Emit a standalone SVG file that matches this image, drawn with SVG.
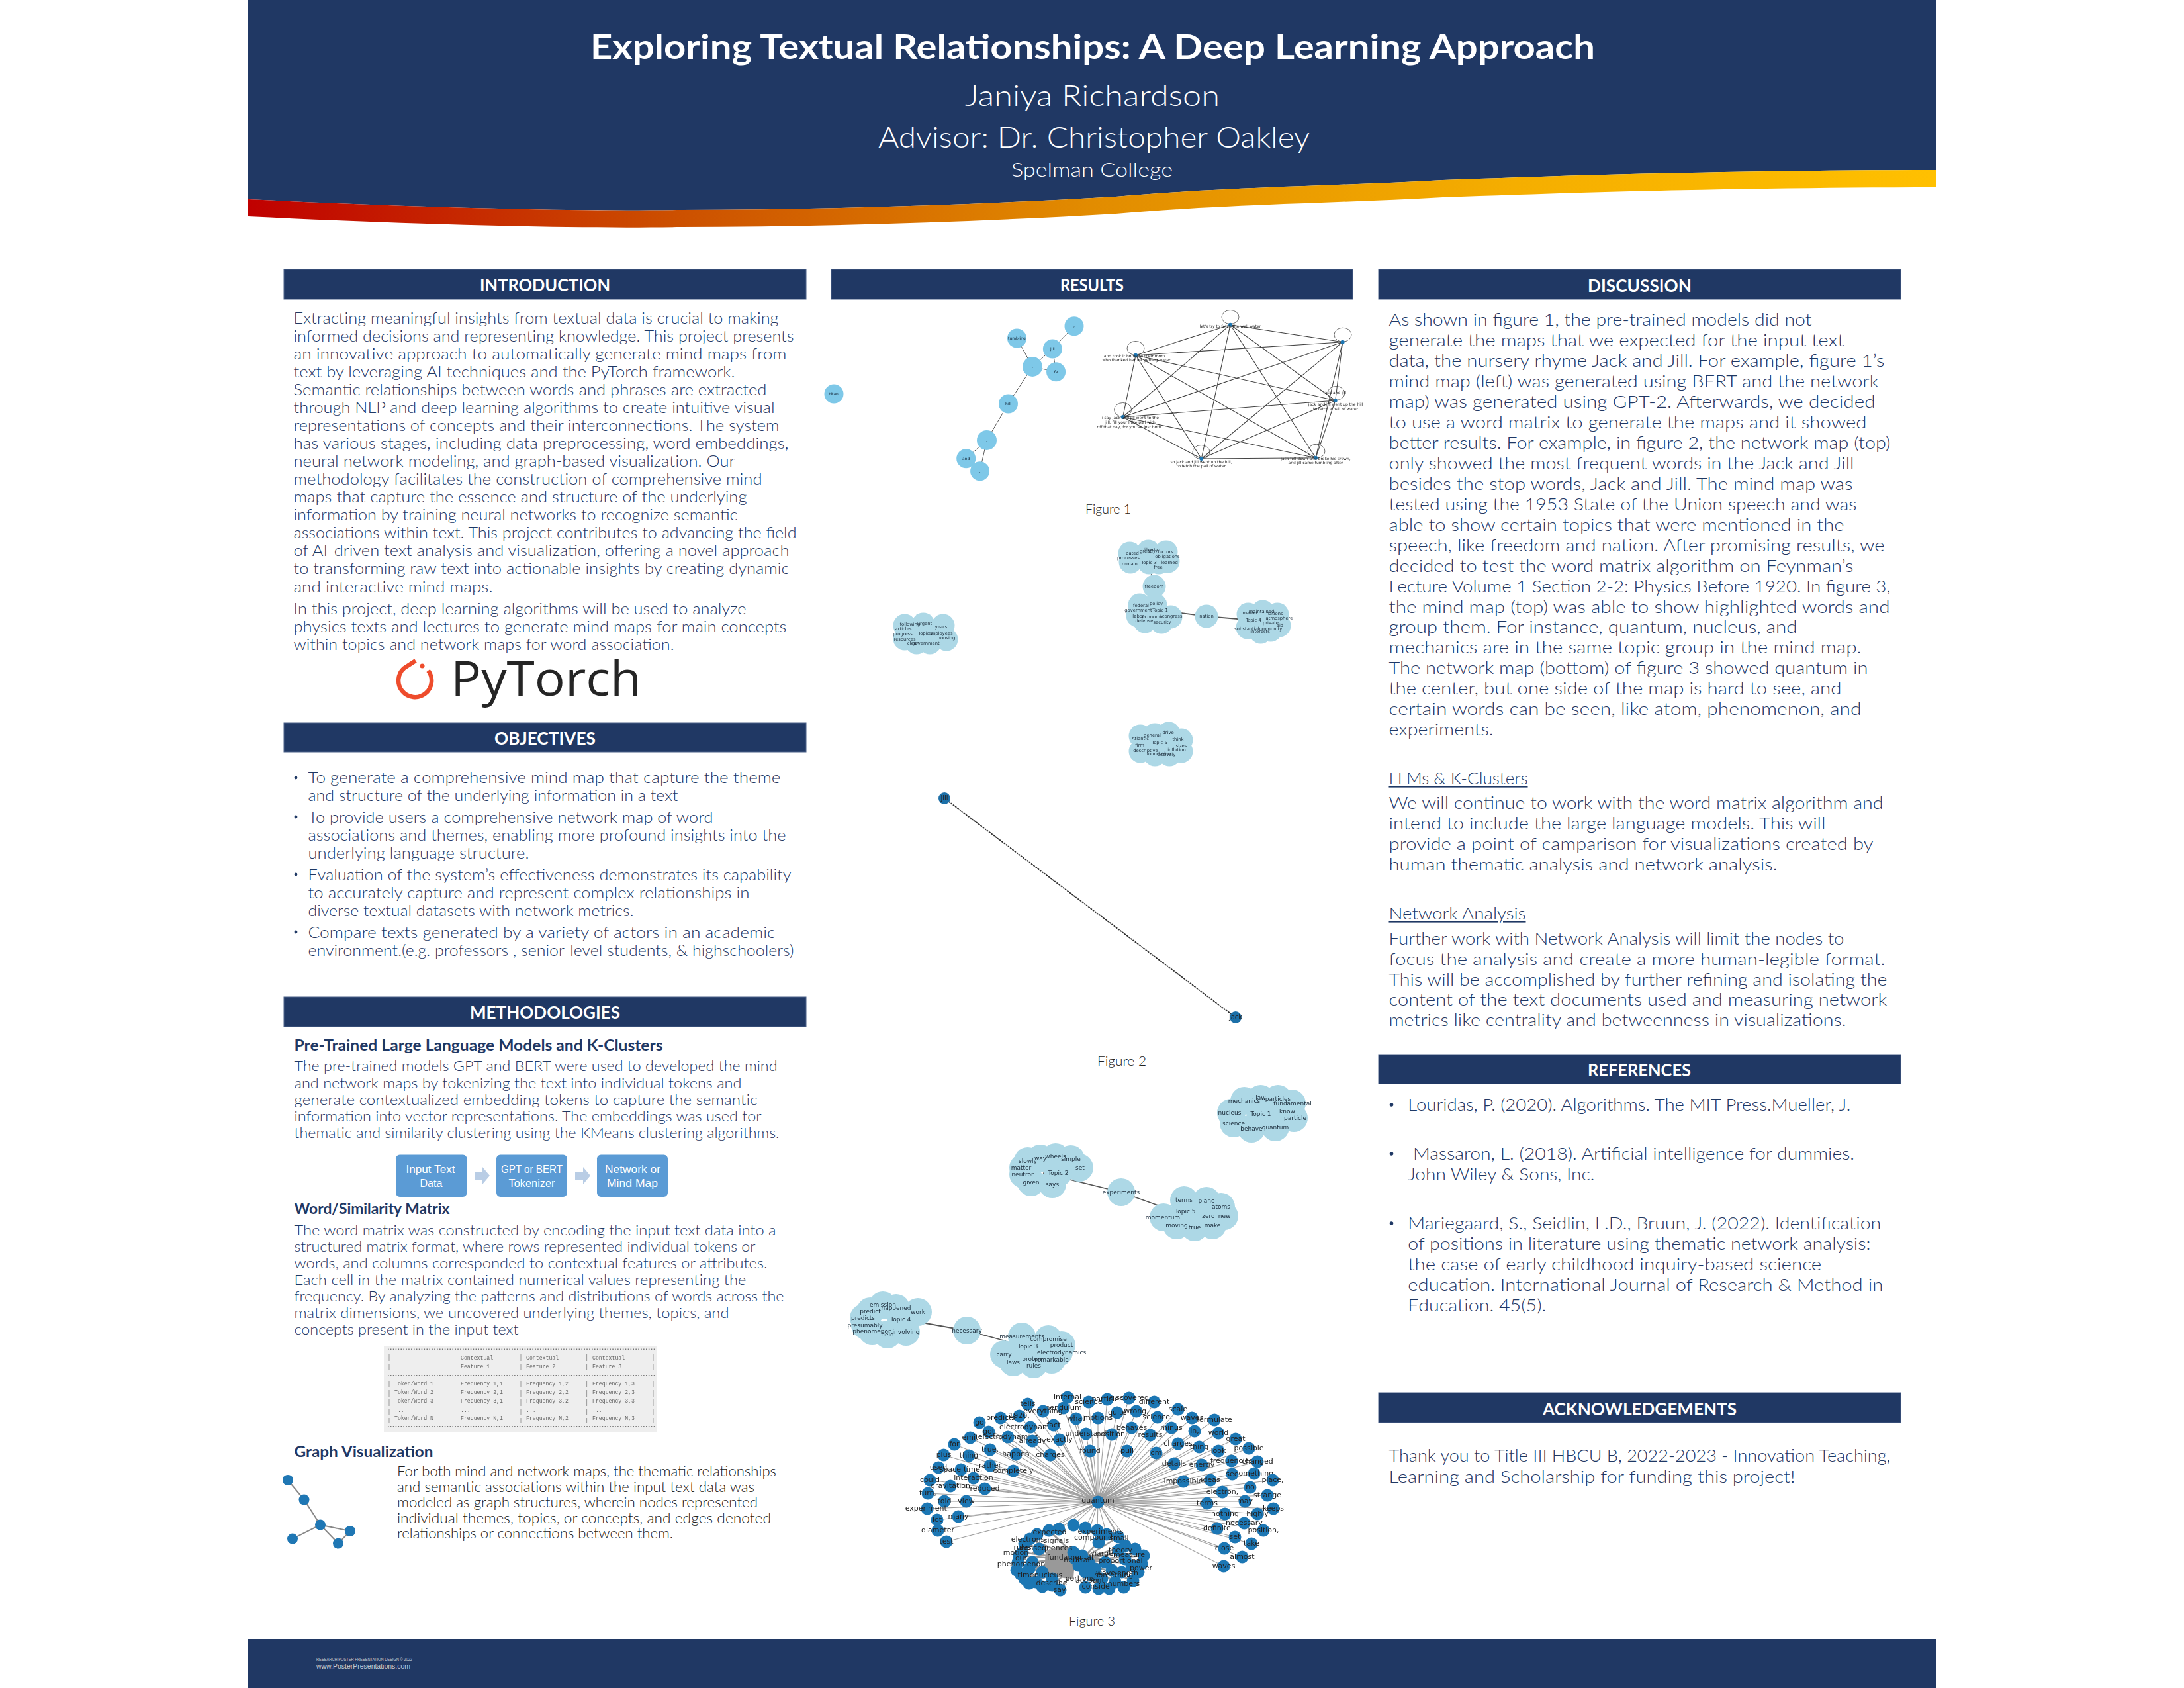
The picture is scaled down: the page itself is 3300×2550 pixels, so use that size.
<svg xmlns="http://www.w3.org/2000/svg" width="3300" height="2550" viewBox="0 0 3300 2550">
<style>
text{font-family:"Lato","Liberation Sans",sans-serif}
.bar{fill:#203864;stroke:#4a6088;stroke-width:1}
.h{fill:#fff;font-weight:700;font-size:27px}
.b{fill:#1f3864;font-size:23px;font-weight:300}
.d{fill:#1f3864;font-size:26px;font-weight:300}
.m{fill:#1f3864;font-size:21.5px;font-weight:300}
.k{fill:#1f3864;font-size:22.5px;font-weight:700}
.g{fill:#222;font-size:21.5px;font-weight:300}
.cap{fill:#222;font-size:20px;font-weight:300}
.dot{fill:#1f3864}
.t{fill:#fff;font-size:44px;font-weight:300}
.fb{fill:#5b9bd5}
.ft{fill:#fff;font-size:17px;font-family:"Liberation Sans",sans-serif}
.ar{fill:#b9cde5}
.mono text{font-family:"Liberation Mono",monospace;font-size:8.2px;fill:#666}
.e1{fill:none;stroke:#555;stroke-width:1}
.e2{fill:none;stroke:#444;stroke-width:1.1}
.e3{fill:none;stroke:#555;stroke-width:1.8}
.e4{fill:none;stroke:#a0a0a0;stroke-width:1.1}
.e5{fill:none;stroke:#888;stroke-width:2}
.sky circle{fill:#7ec8e8}.sky text{font-family:"DejaVu Sans",sans-serif;font-size:6px;fill:#123;text-anchor:middle}
.net circle{fill:#1f77b4}.net ellipse{fill:none;stroke:#444;stroke-width:.8}.net text{font-family:"DejaVu Sans",sans-serif;font-size:6px;fill:#222;text-anchor:middle}
.cl circle{fill:#add8e6;r:17.5px}.cl text{font-family:"DejaVu Sans",sans-serif;font-size:6.8px;fill:#1a2b3a;text-anchor:middle}
.cl2 circle{fill:#add8e6;r:21px}.cl2 text{font-family:"DejaVu Sans",sans-serif;font-size:9px;fill:#1a2b3a;text-anchor:middle}
.hub circle{fill:#1f77b4;r:9.5px}.hub text{font-family:"DejaVu Sans",sans-serif;font-size:11px;fill:#222;text-anchor:middle}
.gv circle{fill:#1f77b4}
</style>
<defs>
<linearGradient id="sw" gradientUnits="userSpaceOnUse" x1="375" y1="0" x2="2925" y2="0">
<stop offset="0" stop-color="#c00000"/><stop offset=".25" stop-color="#cc4f00"/><stop offset=".5" stop-color="#e28c00"/><stop offset=".75" stop-color="#f5ae00"/><stop offset="1" stop-color="#ffc000"/>
</linearGradient>
<filter id="soft" x="-5%" y="-5%" width="110%" height="110%"><feGaussianBlur stdDeviation=".55"/></filter>
</defs>
<rect width="3300" height="2550" fill="#fff"/>

<g id="header">
<path fill="#203864" d="M375 0V301C600 312 850 320 1028 317C1250 317 1480 309 1686 297C1860 282 2020 281 2180 272C2300 268 2400 264 2509 262C2650 259 2800 257 2925 257V0Z"/>
<path fill="url(#sw)" d="M375 301C600 312 850 320 1028 317C1250 317 1480 309 1686 297C1860 282 2020 281 2180 272C2300 268 2400 264 2509 262C2650 259 2800 257 2925 257V283C2800 283 2650 285 2509 288C2400 290 2300 294 2180 298C2020 307 1860 308 1686 323C1480 335 1250 343 1028 343C850 346 600 338 375 327Z"/>
<text x="892" y="89" fill="#fff" font-size="52" font-weight="700" textLength="1518" lengthAdjust="spacingAndGlyphs">Exploring Textual Relationships: A Deep Learning Approach</text>
<text class="t" x="1458" y="160" textLength="385" lengthAdjust="spacingAndGlyphs">Janiya Richardson</text>
<text class="t" x="1327" y="223" textLength="652" lengthAdjust="spacingAndGlyphs">Advisor: Dr. Christopher Oakley</text>
<text x="1528" y="267" fill="#fff" font-size="29" font-weight="300" textLength="244" lengthAdjust="spacingAndGlyphs">Spelman College</text>
</g>

<g id="footer">
<rect x="375" y="2476" width="2550" height="74" fill="#203864"/>
<text x="478" y="2509" fill="#c9cdd5" font-size="7" textLength="145" lengthAdjust="spacingAndGlyphs" style="font-family:'Liberation Sans',sans-serif">RESEARCH POSTER PRESENTATION DESIGN © 2022</text>
<text x="478" y="2521" fill="#c9cdd5" font-size="11" textLength="142" lengthAdjust="spacingAndGlyphs" style="font-family:'Liberation Sans',sans-serif">www.PosterPresentations.com</text>
</g>

<g id="introduction">
<rect class="bar" x="429" y="407" width="789" height="45"/>
<text class="h" x="725" y="440" textLength="197" lengthAdjust="spacingAndGlyphs">INTRODUCTION</text>
<text class="b" x="443.5" y="489" textLength="733" lengthAdjust="spacingAndGlyphs">Extracting meaningful insights from textual data is crucial to making</text>
<text class="b" x="443.5" y="516" textLength="756" lengthAdjust="spacingAndGlyphs">informed decisions and representing knowledge. This project presents</text>
<text class="b" x="443.5" y="543" textLength="745" lengthAdjust="spacingAndGlyphs">an innovative approach to automatically generate mind maps from</text>
<text class="b" x="443.5" y="570" textLength="667" lengthAdjust="spacingAndGlyphs">text by leveraging AI techniques and the PyTorch framework.</text>
<text class="b" x="443.5" y="597" textLength="715" lengthAdjust="spacingAndGlyphs">Semantic relationships between words and phrases are extracted</text>
<text class="b" x="443.5" y="624" textLength="727" lengthAdjust="spacingAndGlyphs">through NLP and deep learning algorithms to create intuitive visual</text>
<text class="b" x="443.5" y="651" textLength="734" lengthAdjust="spacingAndGlyphs">representations of concepts and their interconnections. The system</text>
<text class="b" x="443.5" y="678" textLength="748" lengthAdjust="spacingAndGlyphs">has various stages, including data preprocessing, word embeddings,</text>
<text class="b" x="443.5" y="705" textLength="667" lengthAdjust="spacingAndGlyphs">neural network modeling, and graph-based visualization. Our</text>
<text class="b" x="443.5" y="732" textLength="708" lengthAdjust="spacingAndGlyphs">methodology facilitates the construction of comprehensive mind</text>
<text class="b" x="443.5" y="759" textLength="685" lengthAdjust="spacingAndGlyphs">maps that capture the essence and structure of the underlying</text>
<text class="b" x="443.5" y="786" textLength="671" lengthAdjust="spacingAndGlyphs">information by training neural networks to recognize semantic</text>
<text class="b" x="443.5" y="813" textLength="760" lengthAdjust="spacingAndGlyphs">associations within text. This project contributes to advancing the field</text>
<text class="b" x="443.5" y="840" textLength="749" lengthAdjust="spacingAndGlyphs">of AI-driven text analysis and visualization, offering a novel approach</text>
<text class="b" x="443.5" y="867" textLength="749" lengthAdjust="spacingAndGlyphs">to transforming raw text into actionable insights by creating dynamic</text>
<text class="b" x="443.5" y="894.5" textLength="301" lengthAdjust="spacingAndGlyphs">and interactive mind maps.</text>
<text class="b" x="443.5" y="928" textLength="684" lengthAdjust="spacingAndGlyphs">In this project, deep learning algorithms will be used to analyze</text>
<text class="b" x="443.5" y="955" textLength="745" lengthAdjust="spacingAndGlyphs">physics texts and lectures to generate mind maps for main concepts</text>
<text class="b" x="443.5" y="982" textLength="575" lengthAdjust="spacingAndGlyphs">within topics and network maps for word association.</text>
</g>

<g id="pytorch-logo">
<path d="M628 998L611 1009A25 25 0 1 0 647 1013" fill="none" stroke="#ee4c2c" stroke-width="6.5"/>
<circle cx="638" cy="1006" r="3.6" fill="#ee4c2c"/>
<text x="681" y="1051" fill="#252525" font-size="74" textLength="288" lengthAdjust="spacingAndGlyphs" style="font-family:'Open Sans',sans-serif">PyTorch</text>
</g>

<g id="objectives">
<rect class="bar" x="429" y="1092" width="789" height="44"/>
<text class="h" x="747" y="1125" textLength="153" lengthAdjust="spacingAndGlyphs">OBJECTIVES</text>
<circle class="dot" cx="447" cy="1175" r="2.4"/><circle class="dot" cx="447" cy="1234" r="2.4"/><circle class="dot" cx="447" cy="1321" r="2.4"/><circle class="dot" cx="447" cy="1408" r="2.4"/>
<text class="b" x="465.5" y="1183" textLength="714" lengthAdjust="spacingAndGlyphs">To generate a comprehensive mind map that capture the theme</text>
<text class="b" x="465.5" y="1210" textLength="559" lengthAdjust="spacingAndGlyphs">and structure of the underlying information in a text</text>
<text class="b" x="465.5" y="1242.5" textLength="612" lengthAdjust="spacingAndGlyphs">To provide users a comprehensive network map of word</text>
<text class="b" x="465.5" y="1269.5" textLength="722" lengthAdjust="spacingAndGlyphs">associations and themes, enabling more profound insights into the</text>
<text class="b" x="465.5" y="1296.5" textLength="334" lengthAdjust="spacingAndGlyphs">underlying language structure.</text>
<text class="b" x="465.5" y="1329.5" textLength="730" lengthAdjust="spacingAndGlyphs">Evaluation of the system’s effectiveness demonstrates its capability</text>
<text class="b" x="465.5" y="1356.5" textLength="667" lengthAdjust="spacingAndGlyphs">to accurately capture and represent complex relationships in</text>
<text class="b" x="465.5" y="1383.5" textLength="492" lengthAdjust="spacingAndGlyphs">diverse textual datasets with network metrics.</text>
<text class="b" x="465.5" y="1416.5" textLength="706" lengthAdjust="spacingAndGlyphs">Compare texts generated by a variety of actors in an academic</text>
<text class="b" x="465.5" y="1443.5" textLength="734" lengthAdjust="spacingAndGlyphs">environment.(e.g. professors , senior-level students, &amp; highschoolers)</text>
</g>

<g id="methodologies">
<rect class="bar" x="429" y="1506" width="789" height="45"/>
<text class="h" x="710" y="1539" textLength="227" lengthAdjust="spacingAndGlyphs">METHODOLOGIES</text>
<text class="k" x="444.5" y="1587" textLength="557" lengthAdjust="spacingAndGlyphs">Pre-Trained Large Language Models and K-Clusters</text>
<text class="m" x="444.5" y="1618" textLength="730" lengthAdjust="spacingAndGlyphs">The pre-trained models GPT and BERT were used to developed the mind</text>
<text class="m" x="444.5" y="1643.5" textLength="676" lengthAdjust="spacingAndGlyphs">and network maps by tokenizing the text into individual tokens and</text>
<text class="m" x="444.5" y="1668.5" textLength="700" lengthAdjust="spacingAndGlyphs">generate contextualized embedding tokens to capture the semantic</text>
<text class="m" x="444.5" y="1694" textLength="706" lengthAdjust="spacingAndGlyphs">information into vector representations. The embeddings was used tor</text>
<text class="m" x="444.5" y="1719" textLength="733" lengthAdjust="spacingAndGlyphs">thematic and similarity clustering using the KMeans clustering algorithms.</text>
<text class="k" x="444.5" y="1834" textLength="235" lengthAdjust="spacingAndGlyphs">Word/Similarity Matrix</text>
<text class="m" x="444.5" y="1866" textLength="728" lengthAdjust="spacingAndGlyphs">The word matrix was constructed by encoding the input text data into a</text>
<text class="m" x="444.5" y="1891" textLength="697" lengthAdjust="spacingAndGlyphs">structured matrix format, where rows represented individual tokens or</text>
<text class="m" x="444.5" y="1916" textLength="715" lengthAdjust="spacingAndGlyphs">words, and columns corresponded to contextual features or attributes.</text>
<text class="m" x="444.5" y="1941" textLength="683" lengthAdjust="spacingAndGlyphs">Each cell in the matrix contained numerical values representing the</text>
<text class="m" x="444.5" y="1966" textLength="740" lengthAdjust="spacingAndGlyphs">frequency. By analyzing the patterns and distributions of words across the</text>
<text class="m" x="444.5" y="1991" textLength="657" lengthAdjust="spacingAndGlyphs">matrix dimensions, we uncovered underlying themes, topics, and</text>
<text class="m" x="444.5" y="2016" textLength="339" lengthAdjust="spacingAndGlyphs">concepts present in the input text</text>
<text class="k" x="444.5" y="2201" textLength="210" lengthAdjust="spacingAndGlyphs">Graph Visualization</text>
<text class="g" x="600" y="2230" textLength="573" lengthAdjust="spacingAndGlyphs">For both mind and network maps, the thematic relationships</text>
<text class="g" x="600" y="2253.5" textLength="540" lengthAdjust="spacingAndGlyphs">and semantic associations within the input text data was</text>
<text class="g" x="600" y="2277" textLength="545" lengthAdjust="spacingAndGlyphs">modeled as graph structures, wherein nodes represented</text>
<text class="g" x="600" y="2301" textLength="565" lengthAdjust="spacingAndGlyphs">individual themes, topics, or concepts, and edges denoted</text>
<text class="g" x="600" y="2324" textLength="417" lengthAdjust="spacingAndGlyphs">relationships or connections between them.</text>
</g>

<g id="connectors">
<polygon class="ar" points="717,1770 729,1770 729,1763 740,1776 729,1789 729,1782 717,1782"/>
<polygon class="ar" points="869,1770 881,1770 881,1763 892,1776 881,1789 881,1782 869,1782"/>
<path class="e5" d="M435 2236L459.500 2265.600L484 2303.500L529 2313L511 2331.600L484 2303.500L442 2324.600"/>
<g filter="url(#soft)">
<path class="e1" d="M1536.500 511L1560 554M1623 492.700L1590.400 527L1560 554L1595.600 561.700L1590.400 527M1560 554L1523.500 610L1491 665L1459.700 692.700M1491 665L1480.600 711.700"/>
<path class="e2" d="M1859 490.700L2028.700 516.700M1859 490.700L1716 536.700M1859 490.700L2017.700 605M1859 490.700L1696.600 630M1859 490.700L1815.300 693M1859 490.700L1988 691.700M2028.700 516.700L1716 536.700M2028.700 516.700L2017.700 605M2028.700 516.700L1696.600 630M2028.700 516.700L1815.300 693M2028.700 516.700L1988 691.700M1716 536.700L2017.700 605M1716 536.700L1696.600 630M1716 536.700L1815.300 693M1716 536.700L1988 691.700M2017.700 605L1696.600 630M2017.700 605L1815.300 693M2017.700 605L1988 691.700M1696.600 630L1815.300 693M1696.600 630L1988 691.700M1815.300 693L1988 691.700"/>
<path class="e3" d="M1753 922L1823 931L1894 937M1736 850L1744 886L1753 922"/>
<path d="M1427 1206L1867 1537" fill="none" stroke="#333" stroke-width="1.8" stroke-dasharray="3 1"/>
<path class="e3" d="M1576 1772L1694 1801L1775 1830M1336 1988L1461 2010L1520 2026"/>
<path class="e4" d="M1659 2269L1613 2111M1659 2269L1645 2118M1659 2269L1673 2114M1659 2269L1706 2112M1659 2269L1744 2118M1659 2269L1553 2121M1659 2269L1607 2127M1659 2269L1576 2132M1659 2269L1688 2134M1659 2269L1717 2132M1659 2269L1780 2129M1659 2269L1540 2139M1659 2269L1512 2142M1659 2269L1626 2143M1659 2269L1659 2142M1659 2269L1749 2141M1659 2269L1801 2142M1659 2269L1835 2145M1659 2269L1480 2149M1659 2269L1557 2156M1659 2269L1592 2153M1659 2269L1641 2166M1659 2269L1680 2167M1659 2269L1710 2157M1659 2269L1770 2157M1659 2269L1738 2168M1659 2269L1805 2162M1659 2269L1841 2165M1659 2269L1494 2163M1659 2269L1523 2171M1659 2269L1466 2172M1659 2269L1560 2177M1659 2269L1601 2175M1659 2269L1780 2181M1659 2269L1812 2186M1659 2269L1867 2174M1659 2269L1442 2182M1659 2269L1496 2190M1659 2269L1535 2197M1659 2269L1587 2198M1659 2269L1647 2192M1659 2269L1703 2192M1659 2269L1747 2195M1659 2269L1841 2192M1659 2269L1887 2188M1659 2269L1426 2198M1659 2269L1464 2199M1659 2269L1861 2207M1659 2269L1900 2208M1659 2269L1774 2211M1659 2269L1816 2213M1659 2269L1496 2214M1659 2269L1531 2222M1659 2269L1418 2217M1659 2269L1452 2220M1659 2269L1895 2226M1659 2269L1862 2227M1659 2269L1405 2236M1659 2269L1471 2233M1659 2269L1788 2238M1659 2269L1829 2236M1659 2269L1923 2236M1659 2269L1436 2245M1659 2269L1488 2249M1659 2269L1889 2247M1659 2269L1402 2256M1659 2269L1847 2254M1659 2269L1915 2259M1659 2269L1427 2268M1659 2269L1460 2268M1659 2269L1881 2268M1659 2269L1824 2271M1659 2269L1401 2279M1659 2269L1924 2279M1659 2269L1851 2287M1659 2269L1900 2287M1659 2269L1448 2291M1659 2269L1416 2296M1659 2269L1880 2301M1659 2269L1839 2309M1659 2269L1909 2312M1659 2269L1417 2312M1659 2269L1866 2322M1659 2269L1430 2329M1659 2269L1891 2332M1659 2269L1850 2339M1659 2269L1877 2352M1659 2269L1849 2366M1659 2269L1585 2312M1659 2269L1600 2310M1659 2269L1622 2304M1659 2269L1640 2308M1659 2269L1658 2312M1659 2269L1672 2318M1659 2269L1690 2322M1659 2269L1567 2318M1659 2269L1632 2357M1659 2269L1700 2335M1659 2269L1715 2340"/>
<path d="M1632 2357L1585 2312M1632 2357L1556 2325M1632 2357L1548 2332M1632 2357L1545 2345M1632 2357L1540 2350M1632 2357L1538 2360M1632 2357L1536 2372M1632 2357L1542 2378M1632 2357L1548 2385M1632 2357L1555 2392M1632 2357L1565 2390M1632 2357L1575 2397M1632 2357L1590 2395M1632 2357L1602 2402M1632 2357L1640 2398M1632 2357L1660 2400M1632 2357L1676 2400M1632 2357L1698 2398M1632 2357L1712 2388M1632 2357L1720 2375M1632 2357L1725 2362M1632 2357L1728 2350M1632 2357L1715 2340M1632 2357L1700 2335M1632 2357L1690 2322M1632 2357L1672 2318M1600 2355L1570 2340M1600 2355L1560 2360M1600 2355L1575 2375M1600 2355L1590 2385M1600 2355L1560 2345M1600 2355L1555 2375M1600 2365L1565 2390" fill="none" stroke="#999" stroke-width="2.500"/>
<path d="M1580 2345Q1600 2330 1625 2340L1622 2385Q1595 2385 1578 2372Z" fill="#999"/>
</g>
</g>

<g id="flow-input"><rect class="fb" x="598" y="1744.500" width="107.500" height="63.500" rx="6"/><text class="ft" x="613.500" y="1772" textLength="74" lengthAdjust="spacingAndGlyphs">Input Text</text><text class="ft" x="634.500" y="1792.500" textLength="34" lengthAdjust="spacingAndGlyphs">Data</text></g>
<g id="flow-tokenizer"><rect class="fb" x="750" y="1744.500" width="107" height="63.500" rx="6"/><text class="ft" x="757" y="1772" textLength="93" lengthAdjust="spacingAndGlyphs">GPT or BERT</text><text class="ft" x="768.500" y="1792.500" textLength="70" lengthAdjust="spacingAndGlyphs">Tokenizer</text></g>
<g id="flow-map"><rect class="fb" x="902" y="1744.500" width="107" height="63.500" rx="6"/><text class="ft" x="914" y="1772" textLength="84" lengthAdjust="spacingAndGlyphs">Network or</text><text class="ft" x="917" y="1792.500" textLength="77" lengthAdjust="spacingAndGlyphs">Mind Map</text></g>

<g id="matrix-table" class="mono" filter="url(#soft)">
<rect x="580" y="2033" width="413" height="130" fill="#eee"/>
<path d="M586 2038.500H989M586 2078H989M586 2155H989" stroke="#777" stroke-width="1.800" stroke-dasharray="1.500 2.400" fill="none"/>
<path d="M588 2046V2072M687.500 2046V2072M787 2046V2072M886.600 2046V2072M987 2046V2072M588 2086V2150M687.500 2086V2150M787 2086V2150M886.600 2086V2150M987 2086V2150" stroke="#999" stroke-width="1" stroke-dasharray="10 4" fill="none"/>
<text x="696" y="2054">Contextual</text><text x="795" y="2054">Contextual</text><text x="895" y="2054">Contextual</text>
<text x="696" y="2067">Feature 1</text><text x="795" y="2067">Feature 2</text><text x="895" y="2067">Feature 3</text>
<text x="596" y="2093">Token/Word 1</text><text x="696" y="2093">Frequency 1,1</text><text x="795" y="2093">Frequency 1,2</text><text x="895" y="2093">Frequency 1,3</text>
<text x="596" y="2106">Token/Word 2</text><text x="696" y="2106">Frequency 2,1</text><text x="795" y="2106">Frequency 2,2</text><text x="895" y="2106">Frequency 2,3</text>
<text x="596" y="2119">Token/Word 3</text><text x="696" y="2119">Frequency 3,1</text><text x="795" y="2119">Frequency 3,2</text><text x="895" y="2119">Frequency 3,3</text>
<text x="596" y="2133">...</text><text x="696" y="2133">...</text><text x="795" y="2133">...</text><text x="895" y="2133">...</text>
<text x="596" y="2145">Token/Word N</text><text x="696" y="2145">Frequency N,1</text><text x="795" y="2145">Frequency N,2</text><text x="895" y="2145">Frequency N,3</text>
</g>

<g class="gv">
<g id="gv1"><circle cx="435" cy="2236" r="8"/></g><g id="gv2"><circle cx="459.500" cy="2265.600" r="8"/></g><g id="gv3"><circle cx="484" cy="2303.500" r="8"/></g><g id="gv4"><circle cx="529" cy="2313" r="8"/></g><g id="gv5"><circle cx="511" cy="2331.600" r="8"/></g><g id="gv6"><circle cx="442" cy="2324.600" r="8"/></g>
</g>

<g id="results-bar">
<rect class="bar" x="1256" y="407" width="788" height="45"/>
<text class="h" x="1602" y="440" textLength="96" lengthAdjust="spacingAndGlyphs">RESULTS</text>
<text class="cap" x="1640" y="776" textLength="69" lengthAdjust="spacingAndGlyphs">Figure 1</text>
<text class="cap" x="1658" y="1610" textLength="74" lengthAdjust="spacingAndGlyphs">Figure 2</text>
<text class="cap" x="1615" y="2456" textLength="70" lengthAdjust="spacingAndGlyphs">Figure 3</text>
</g>

<g class="sky" filter="url(#soft)">
<g id="f1a1"><circle cx="1260" cy="595" r="14.500"/><text x="1260" y="597">titan</text></g>
<g id="f1a2"><circle cx="1536.500" cy="511" r="14.500"/><text x="1536.500" y="513">tumbling</text></g>
<g id="f1a3"><circle cx="1623" cy="492.700" r="14.500"/><text x="1623" y="494">,</text></g>
<g id="f1a4"><circle cx="1590.400" cy="527" r="14.500"/><text x="1590.400" y="529">jill</text></g>
<g id="f1a5"><circle cx="1560" cy="554" r="15"/><text x="1560" y="556">.</text></g>
<g id="f1a6"><circle cx="1595.600" cy="561.700" r="14.500"/><text x="1595.600" y="564">fe</text></g>
<g id="f1a7"><circle cx="1523.500" cy="610" r="14.500"/><text x="1523.500" y="612">hill</text></g>
<g id="f1a8"><circle cx="1491" cy="665" r="15"/><text x="1491" y="667">.</text></g>
<g id="f1a9"><circle cx="1459.700" cy="692.700" r="14.500"/><text x="1459.700" y="695">and</text></g>
<g id="f1a10"><circle cx="1480.600" cy="711.700" r="14.500"/><text x="1480.600" y="714">.</text></g>
</g>

<g class="net" filter="url(#soft)">
<g id="f1b1"><ellipse cx="1859" cy="479" rx="13" ry="10.500"/><circle cx="1859" cy="490.700" r="3"/><text x="1859" y="495">let's try to fetch the well water</text></g>
<g id="f1b2"><ellipse cx="2029" cy="505.700" rx="13" ry="10.500"/><circle cx="2028.700" cy="516.700" r="3"/></g>
<g id="f1b3"><ellipse cx="1716" cy="526" rx="13" ry="10.500"/><circle cx="1716" cy="536.700" r="3"/><text x="1714" y="540">and took it home to their mom</text><text x="1717" y="545.500">who thanked her for getting water</text></g>
<g id="f1b4"><ellipse cx="2018.800" cy="594" rx="13" ry="10.500"/><circle cx="2017.700" cy="605" r="3"/><text x="2017" y="595">jack and jill</text><text x="2018" y="613">jack and jill went up the hill</text><text x="2018" y="619.500">to fetch a pail of water</text></g>
<g id="f1b5"><ellipse cx="1696.600" cy="619" rx="13" ry="10.500"/><circle cx="1696.600" cy="630" r="3"/><text x="1708" y="633">i say jack and jill went to the</text><text x="1708" y="639.500">jill, fill your little pail with</text><text x="1706" y="646.500">off that day, for you've lost both</text></g>
<g id="f1b6"><ellipse cx="1815" cy="683" rx="13" ry="10.500"/><circle cx="1815.300" cy="693" r="3"/><text x="1815" y="700">so jack and jill went up the hill,</text><text x="1815" y="705.500">to fetch the pail of water</text></g>
<g id="f1b7"><ellipse cx="1989" cy="681.700" rx="13" ry="10.500"/><circle cx="1988" cy="691.700" r="3"/><text x="1988" y="695">jack fell down and broke his crown,</text><text x="1988" y="700.500">and jill came tumbling after</text></g>
</g>

<g class="cl" filter="url(#soft)">
<g id="f2-topic3"><circle cx="1707" cy="836" r="16"/><circle cx="1735" cy="833" r="16"/><circle cx="1762" cy="834" r="16"/><circle cx="1765" cy="848" r="16"/><circle cx="1708" cy="849" r="16"/><circle cx="1736" cy="850" r="16"/><circle cx="1751" cy="850" r="16"/><circle cx="1722" cy="842" r="16"/>
<text x="1711" y="838">dated</text><text x="1734" y="835">greatly</text><text x="1739" y="833">liberty</text><text x="1761" y="836">factors</text><text x="1764" y="843">obligations</text><text x="1705" y="845">processes</text><text x="1707" y="854">remain</text><text x="1736" y="852">Topic 3</text><text x="1767" y="852">learned</text><text x="1750" y="859">free</text></g>
<g id="f2-freedom"><circle cx="1744" cy="886" r="16"/><text x="1744" y="888">freedom</text></g>
<g id="f2-topic1"><circle cx="1722" cy="914" r="16"/><circle cx="1746" cy="914" r="16"/><circle cx="1719" cy="930" r="16"/><circle cx="1769" cy="932" r="16"/><circle cx="1730" cy="939" r="16"/><circle cx="1755" cy="940" r="16"/><circle cx="1745" cy="925" r="16"/>
<text x="1747" y="914">policy</text><text x="1724" y="917">federal</text><text x="1720" y="924">government</text><text x="1753" y="924">Topic 1</text><text x="1720" y="933">labor</text><text x="1742" y="934">economic</text><text x="1771" y="933">congress</text><text x="1729" y="940">defense</text><text x="1756" y="942">security</text></g>
<g id="f2-nation"><circle cx="1823" cy="931" r="16"/><text x="1823" y="933">nation</text></g>
<g id="f2-topic4"><circle cx="1886" cy="928" r="17"/><circle cx="1908" cy="924" r="17"/><circle cx="1930" cy="928" r="17"/><circle cx="1885" cy="948" r="17"/><circle cx="1933" cy="945" r="17"/><circle cx="1905" cy="955" r="17"/><circle cx="1920" cy="952" r="17"/><circle cx="1908" cy="938" r="17"/>
<text x="1906" y="926">maintained</text><text x="1889" y="928">matter</text><text x="1926" y="929">nations</text><text x="1894" y="939">Topic 4</text><text x="1933" y="936">atmosphere</text><text x="1920" y="943">private</text><text x="1934" y="947">aid</text><text x="1884" y="952">substantial</text><text x="1918" y="952">community</text><text x="1904" y="956">interests</text></g>
<g id="f2-topic2"><circle cx="1367" cy="945" r="16"/><circle cx="1395" cy="943" r="16"/><circle cx="1425" cy="945" r="16"/><circle cx="1367" cy="965" r="16"/><circle cx="1430" cy="966" r="16"/><circle cx="1385" cy="971" r="16"/><circle cx="1405" cy="971" r="16"/><circle cx="1395" cy="957" r="16"/>
<text x="1375" y="945">following</text><text x="1397" y="944">urgent</text><text x="1422" y="949">years</text><text x="1365" y="952">articles</text><text x="1364" y="960">progress</text><text x="1399" y="959">Topic 2</text><text x="1421" y="959">employees</text><text x="1430" y="966">housing</text><text x="1367" y="968">resources</text><text x="1380" y="974">clean</text><text x="1399" y="974">government</text></g>
<g id="f2-topic5"><circle cx="1723" cy="1112" r="16"/><circle cx="1745" cy="1110" r="16"/><circle cx="1766" cy="1108" r="16"/><circle cx="1785" cy="1118" r="16"/><circle cx="1785" cy="1135" r="16"/><circle cx="1723" cy="1135" r="16"/><circle cx="1745" cy="1140" r="16"/><circle cx="1767" cy="1140" r="16"/><circle cx="1752" cy="1122" r="16"/>
<text x="1741" y="1113">general</text><text x="1765" y="1109">drive</text><text x="1723" y="1118">Atlantic</text><text x="1780" y="1119">think</text><text x="1752" y="1124">Topic 5</text><text x="1722" y="1128">firm</text><text x="1785" y="1129">sizes</text><text x="1731" y="1136">descriptive</text><text x="1778" y="1135">inflation</text><text x="1751" y="1141">foundation</text><text x="1763" y="1142">actively</text></g>
</g>

<g class="net" filter="url(#soft)">
<g id="f2b-jill"><circle cx="1427" cy="1206" r="9" style="fill:#1f6fa8"/><text x="1427" y="1209" style="font-size:10px">jill</text></g>
<g id="f2b-jack"><circle cx="1867" cy="1537" r="9" style="fill:#1f6fa8"/><text x="1867" y="1540" style="font-size:10px">jack</text></g>
</g>

<g class="cl2" filter="url(#soft)">
<g id="f3-topic1"><circle cx="1880" cy="1663" r="20"/><circle cx="1905" cy="1660" r="20"/><circle cx="1931" cy="1660" r="20"/><circle cx="1952" cy="1667" r="20"/><circle cx="1860" cy="1681" r="20"/><circle cx="1905" cy="1683" r="20"/><circle cx="1945" cy="1679" r="20"/><circle cx="1955" cy="1689" r="20"/><circle cx="1864" cy="1697" r="20"/><circle cx="1891" cy="1705" r="20"/><circle cx="1927" cy="1703" r="20"/>
<text x="1880" y="1666">mechanics</text><text x="1905" y="1661">law</text><text x="1931" y="1663">particles</text><text x="1953" y="1670">fundamental</text><text x="1858" y="1684">nucleus</text><text x="1905" y="1686">Topic 1</text><text x="1945" y="1682">know</text><text x="1957" y="1692">particle</text><text x="1864" y="1700">science</text><text x="1891" y="1708">behave</text><text x="1927" y="1706">quantum</text></g>
<g id="f3-topic2"><circle cx="1553" cy="1754" r="20"/><circle cx="1572" cy="1750" r="20"/><circle cx="1595" cy="1748" r="20"/><circle cx="1618" cy="1751" r="20"/><circle cx="1546" cy="1764" r="20"/><circle cx="1631" cy="1764" r="20"/><circle cx="1546" cy="1774" r="20"/><circle cx="1599" cy="1772" r="20"/><circle cx="1558" cy="1786" r="20"/><circle cx="1590" cy="1789" r="20"/>
<text x="1553" y="1757">slowly</text><text x="1572" y="1753">way</text><text x="1595" y="1750">wheels</text><text x="1618" y="1754">simple</text><text x="1543" y="1767">matter</text><text x="1632" y="1767">set</text><text x="1546" y="1777">neutron</text><text x="1599" y="1775">Topic 2</text><text x="1558" y="1789">given</text><text x="1590" y="1792">says</text></g>
<g id="f3-experiments"><circle cx="1694" cy="1801" r="20"/><text x="1694" y="1804">experiments</text></g>
<g id="f3-topic5"><circle cx="1789" cy="1813" r="20"/><circle cx="1823" cy="1814" r="20"/><circle cx="1845" cy="1823" r="20"/><circle cx="1791" cy="1830" r="20"/><circle cx="1758" cy="1839" r="20"/><circle cx="1826" cy="1837" r="20"/><circle cx="1850" cy="1837" r="20"/><circle cx="1778" cy="1851" r="20"/><circle cx="1805" cy="1854" r="20"/><circle cx="1832" cy="1851" r="20"/>
<text x="1789" y="1816">terms</text><text x="1823" y="1817">plane</text><text x="1845" y="1826">atoms</text><text x="1791" y="1833">Topic 5</text><text x="1757" y="1842">momentum</text><text x="1826" y="1840">zero</text><text x="1850" y="1840">new</text><text x="1778" y="1854">moving</text><text x="1805" y="1857">true</text><text x="1832" y="1854">make</text></g>
<g id="f3-topic4"><circle cx="1334" cy="1972" r="20"/><circle cx="1354" cy="1976" r="20"/><circle cx="1315" cy="1981" r="20"/><circle cx="1387" cy="1982" r="20"/><circle cx="1305" cy="1991" r="20"/><circle cx="1361" cy="1993" r="20"/><circle cx="1307" cy="2002" r="20"/><circle cx="1318" cy="2011" r="20"/><circle cx="1369" cy="2012" r="20"/><circle cx="1341" cy="2016" r="20"/>
<text x="1334" y="1974">emission</text><text x="1354" y="1979">happened</text><text x="1315" y="1984">predict</text><text x="1387" y="1985">work</text><text x="1304" y="1994">predicts</text><text x="1361" y="1996">Topic 4</text><text x="1307" y="2005">presumably</text><text x="1318" y="2014">phenomenon</text><text x="1369" y="2015">involving</text><text x="1341" y="2019">field</text></g>
<g id="f3-necessary"><circle cx="1461" cy="2010" r="20"/><text x="1461" y="2013">necessary</text></g>
<g id="f3-topic3"><circle cx="1544" cy="2019" r="20"/><circle cx="1584" cy="2023" r="20"/><circle cx="1604" cy="2032" r="20"/><circle cx="1553" cy="2034" r="20"/><circle cx="1600" cy="2043" r="20"/><circle cx="1517" cy="2046" r="20"/><circle cx="1559" cy="2053" r="20"/><circle cx="1589" cy="2054" r="20"/><circle cx="1531" cy="2058" r="20"/><circle cx="1562" cy="2061" r="20"/>
<text x="1544" y="2022">measurements</text><text x="1584" y="2026">compromise</text><text x="1604" y="2035">product</text><text x="1553" y="2037">Topic 3</text><text x="1604" y="2046">electrodynamics</text><text x="1517" y="2049">carry</text><text x="1559" y="2056">proton</text><text x="1589" y="2057">remarkable</text><text x="1531" y="2061">laws</text><text x="1562" y="2066">rules</text></g>
</g>

<g class="hub" filter="url(#soft)">
<g id="q0"><circle cx="1659" cy="2269" r="8"/><text x="1659" y="2270">quantum</text></g>
<g id="q1"><circle cx="1613" cy="2111" r="8"/><text x="1613" y="2114">internal</text></g>
<g id="q2"><circle cx="1645" cy="2118" r="8"/><text x="1645" y="2121">science</text></g>
<g id="q3"><circle cx="1673" cy="2114" r="8"/><text x="1673" y="2117">particles</text></g>
<g id="q4"><circle cx="1706" cy="2112" r="8"/><text x="1706" y="2115">discovered</text></g>
<g id="q5"><circle cx="1744" cy="2118" r="8"/><text x="1744" y="2121">different</text></g>
<g id="q6"><circle cx="1553" cy="2121" r="8"/><text x="1553" y="2124">tells</text></g>
<g id="q7"><circle cx="1607" cy="2127" r="8"/><text x="1607" y="2130">pendulum</text></g>
<g id="q8"><circle cx="1576" cy="2132" r="8"/><text x="1576" y="2135">everything</text></g>
<g id="q9"><circle cx="1688" cy="2134" r="8"/><text x="1688" y="2137">quite</text></g>
<g id="q10"><circle cx="1717" cy="2132" r="8"/><text x="1717" y="2135">wrong,</text></g>
<g id="q11"><circle cx="1780" cy="2129" r="8"/><text x="1780" y="2132">scale</text></g>
<g id="q12"><circle cx="1540" cy="2139" r="8"/><text x="1540" y="2142">1920,</text></g>
<g id="q13"><circle cx="1512" cy="2142" r="8"/><text x="1512" y="2145">predicts</text></g>
<g id="q14"><circle cx="1626" cy="2143" r="8"/><text x="1626" y="2146">what</text></g>
<g id="q15"><circle cx="1659" cy="2142" r="8"/><text x="1659" y="2145">motions</text></g>
<g id="q16"><circle cx="1749" cy="2141" r="8"/><text x="1749" y="2144">science.</text></g>
<g id="q17"><circle cx="1801" cy="2142" r="8"/><text x="1801" y="2145">waves</text></g>
<g id="q18"><circle cx="1835" cy="2145" r="8"/><text x="1835" y="2148">formulate</text></g>
<g id="q19"><circle cx="1480" cy="2149" r="8"/><text x="1480" y="2152">go</text></g>
<g id="q20"><circle cx="1557" cy="2156" r="8"/><text x="1557" y="2159">electrodynamics,</text></g>
<g id="q21"><circle cx="1592" cy="2153" r="8"/><text x="1592" y="2156">fact</text></g>
<g id="q22"><circle cx="1641" cy="2166" r="8"/><text x="1641" y="2169">understand</text></g>
<g id="q23"><circle cx="1680" cy="2167" r="8"/><text x="1680" y="2170">position,</text></g>
<g id="q24"><circle cx="1710" cy="2157" r="8"/><text x="1710" y="2160">behaves</text></g>
<g id="q25"><circle cx="1770" cy="2157" r="8"/><text x="1770" y="2160">minus</text></g>
<g id="q26"><circle cx="1738" cy="2168" r="8"/><text x="1738" y="2171">results</text></g>
<g id="q27"><circle cx="1805" cy="2162" r="8"/><text x="1805" y="2165">in,</text></g>
<g id="q28"><circle cx="1841" cy="2165" r="8"/><text x="1841" y="2168">world</text></g>
<g id="q29"><circle cx="1494" cy="2163" r="8"/><text x="1494" y="2166">got</text></g>
<g id="q30"><circle cx="1523" cy="2171" r="8"/><text x="1523" y="2174">electrodynamics</text></g>
<g id="q31"><circle cx="1466" cy="2172" r="8"/><text x="1466" y="2175">emit</text></g>
<g id="q32"><circle cx="1560" cy="2177" r="8"/><text x="1560" y="2180">already</text></g>
<g id="q33"><circle cx="1601" cy="2175" r="8"/><text x="1601" y="2178">exactly</text></g>
<g id="q34"><circle cx="1780" cy="2181" r="8"/><text x="1780" y="2184">charges</text></g>
<g id="q35"><circle cx="1812" cy="2186" r="8"/><text x="1812" y="2189">thing</text></g>
<g id="q36"><circle cx="1867" cy="2174" r="8"/><text x="1867" y="2177">great</text></g>
<g id="q37"><circle cx="1442" cy="2182" r="8"/><text x="1442" y="2185">for</text></g>
<g id="q38"><circle cx="1496" cy="2190" r="8"/><text x="1496" y="2193">true,</text></g>
<g id="q39"><circle cx="1535" cy="2197" r="8"/><text x="1535" y="2200">happen</text></g>
<g id="q40"><circle cx="1587" cy="2198" r="8"/><text x="1587" y="2201">charges</text></g>
<g id="q41"><circle cx="1647" cy="2192" r="8"/><text x="1647" y="2195">found</text></g>
<g id="q42"><circle cx="1703" cy="2192" r="8"/><text x="1703" y="2195">pull</text></g>
<g id="q43"><circle cx="1747" cy="2195" r="8"/><text x="1747" y="2198">cm</text></g>
<g id="q44"><circle cx="1841" cy="2192" r="8"/><text x="1841" y="2195">look</text></g>
<g id="q45"><circle cx="1887" cy="2188" r="8"/><text x="1887" y="2191">possible</text></g>
<g id="q46"><circle cx="1426" cy="2198" r="8"/><text x="1426" y="2201">plus</text></g>
<g id="q47"><circle cx="1464" cy="2199" r="8"/><text x="1464" y="2202">thing</text></g>
<g id="q48"><circle cx="1861" cy="2207" r="8"/><text x="1861" y="2210">frequencies</text></g>
<g id="q49"><circle cx="1900" cy="2208" r="8"/><text x="1900" y="2211">changed</text></g>
<g id="q50"><circle cx="1774" cy="2211" r="8"/><text x="1774" y="2214">details</text></g>
<g id="q51"><circle cx="1816" cy="2213" r="8"/><text x="1816" y="2216">energy</text></g>
<g id="q52"><circle cx="1496" cy="2214" r="8"/><text x="1496" y="2217">rather</text></g>
<g id="q53"><circle cx="1531" cy="2222" r="8"/><text x="1531" y="2225">completely</text></g>
<g id="q54"><circle cx="1418" cy="2217" r="8"/><text x="1418" y="2220">used</text></g>
<g id="q55"><circle cx="1452" cy="2220" r="8"/><text x="1452" y="2223">space-time,</text></g>
<g id="q56"><circle cx="1895" cy="2226" r="8"/><text x="1895" y="2229">something</text></g>
<g id="q57"><circle cx="1862" cy="2227" r="8"/><text x="1862" y="2230">see</text></g>
<g id="q58"><circle cx="1405" cy="2236" r="8"/><text x="1405" y="2239">could</text></g>
<g id="q59"><circle cx="1471" cy="2233" r="8"/><text x="1471" y="2236">interaction</text></g>
<g id="q60"><circle cx="1788" cy="2238" r="8"/><text x="1788" y="2241">impossible</text></g>
<g id="q61"><circle cx="1829" cy="2236" r="8"/><text x="1829" y="2239">ideas</text></g>
<g id="q62"><circle cx="1923" cy="2236" r="8"/><text x="1923" y="2239">place,</text></g>
<g id="q63"><circle cx="1436" cy="2245" r="8"/><text x="1436" y="2248">gravitation</text></g>
<g id="q64"><circle cx="1488" cy="2249" r="8"/><text x="1488" y="2252">reduced</text></g>
<g id="q65"><circle cx="1889" cy="2247" r="8"/><text x="1889" y="2250">no</text></g>
<g id="q66"><circle cx="1402" cy="2256" r="8"/><text x="1402" y="2259">turn,</text></g>
<g id="q67"><circle cx="1847" cy="2254" r="8"/><text x="1847" y="2257">electron,</text></g>
<g id="q68"><circle cx="1915" cy="2259" r="8"/><text x="1915" y="2262">strange</text></g>
<g id="q69"><circle cx="1427" cy="2268" r="8"/><text x="1427" y="2271">told</text></g>
<g id="q70"><circle cx="1460" cy="2268" r="8"/><text x="1460" y="2271">view</text></g>
<g id="q71"><circle cx="1881" cy="2268" r="8"/><text x="1881" y="2271">may</text></g>
<g id="q72"><circle cx="1824" cy="2271" r="8"/><text x="1824" y="2274">terms</text></g>
<g id="q73"><circle cx="1401" cy="2279" r="8"/><text x="1401" y="2282">experiment.</text></g>
<g id="q74"><circle cx="1924" cy="2279" r="8"/><text x="1924" y="2282">keeps</text></g>
<g id="q75"><circle cx="1851" cy="2287" r="8"/><text x="1851" y="2290">nothing</text></g>
<g id="q76"><circle cx="1900" cy="2287" r="8"/><text x="1900" y="2290">highly</text></g>
<g id="q77"><circle cx="1448" cy="2291" r="8"/><text x="1448" y="2294">many</text></g>
<g id="q78"><circle cx="1416" cy="2296" r="8"/><text x="1416" y="2299">lot</text></g>
<g id="q79"><circle cx="1880" cy="2301" r="8"/><text x="1880" y="2304">necessary</text></g>
<g id="q80"><circle cx="1839" cy="2309" r="8"/><text x="1839" y="2312">definite</text></g>
<g id="q81"><circle cx="1909" cy="2312" r="8"/><text x="1909" y="2315">position,</text></g>
<g id="q82"><circle cx="1417" cy="2312" r="8"/><text x="1417" y="2315">diameter</text></g>
<g id="q83"><circle cx="1866" cy="2322" r="8"/><text x="1866" y="2325">set</text></g>
<g id="q84"><circle cx="1430" cy="2329" r="8"/><text x="1430" y="2332">test</text></g>
<g id="q85"><circle cx="1891" cy="2332" r="8"/><text x="1891" y="2335">take</text></g>
<g id="q86"><circle cx="1850" cy="2339" r="8"/><text x="1850" y="2342">close</text></g>
<g id="q87"><circle cx="1877" cy="2352" r="8"/><text x="1877" y="2355">almost</text></g>
<g id="q88"><circle cx="1849" cy="2366" r="8"/><text x="1849" y="2369">waves</text></g>
<g id="q-cluster">
<circle cx="1585" cy="2312" r="8"/><circle cx="1600" cy="2310" r="8"/><circle cx="1622" cy="2304" r="8"/><circle cx="1640" cy="2308" r="8"/><circle cx="1658" cy="2312" r="8"/><circle cx="1672" cy="2318" r="8"/><circle cx="1690" cy="2322" r="8"/><circle cx="1556" cy="2325" r="8"/><circle cx="1567" cy="2318" r="8"/><circle cx="1548" cy="2332" r="8"/><circle cx="1545" cy="2345" r="8"/><circle cx="1540" cy="2350" r="8"/><circle cx="1538" cy="2360" r="8"/><circle cx="1536" cy="2372" r="8"/><circle cx="1542" cy="2378" r="8"/><circle cx="1548" cy="2385" r="8"/><circle cx="1555" cy="2392" r="8"/><circle cx="1565" cy="2390" r="8"/><circle cx="1575" cy="2397" r="8"/><circle cx="1590" cy="2395" r="8"/><circle cx="1602" cy="2402" r="8"/><circle cx="1640" cy="2398" r="8"/><circle cx="1660" cy="2400" r="8"/><circle cx="1676" cy="2400" r="8"/><circle cx="1698" cy="2398" r="8"/><circle cx="1712" cy="2388" r="8"/><circle cx="1720" cy="2375" r="8"/><circle cx="1725" cy="2362" r="8"/><circle cx="1728" cy="2350" r="8"/><circle cx="1715" cy="2340" r="8"/><circle cx="1700" cy="2335" r="8"/><circle cx="1690" cy="2342" r="8"/><circle cx="1700" cy="2355" r="8"/><circle cx="1680" cy="2372" r="8"/><circle cx="1665" cy="2385" r="8"/><circle cx="1650" cy="2380" r="8"/><circle cx="1695" cy="2375" r="8"/><circle cx="1710" cy="2365" r="8"/><circle cx="1685" cy="2390" r="8"/><circle cx="1625" cy="2355" r="8"/><circle cx="1635" cy="2350" r="8"/><circle cx="1645" cy="2360" r="8"/><circle cx="1630" cy="2365" r="8"/><circle cx="1622" cy="2345" r="8"/><circle cx="1570" cy="2340" r="8"/><circle cx="1560" cy="2360" r="8"/><circle cx="1575" cy="2375" r="8"/><circle cx="1590" cy="2385" r="8"/><circle cx="1640" cy="2375" r="8"/><circle cx="1660" cy="2330" r="8"/><circle cx="1555" cy="2370" r="8"/><circle cx="1670" cy="2360" r="8"/><circle cx="1655" cy="2370" r="8"/>
<text x="1663" y="2317">experiments</text><text x="1586" y="2318">expected</text><text x="1553" y="2329">electrons</text><text x="1652" y="2326">compound</text><text x="1691" y="2327">small</text><text x="1596" y="2331">signals</text><text x="1581" y="2342">consequences</text><text x="1545" y="2341">rules</text><text x="1535" y="2349">motion</text><text x="1693" y="2345">theory</text><text x="1706" y="2352">measure</text><text x="1617" y="2356">fundamental</text><text x="1663" y="2350">charge</text><text x="1543" y="2357">our</text><text x="1627" y="2360">neutral</text><text x="1543" y="2366">phenomenon</text><text x="1724" y="2372">power</text><text x="1693" y="2361">proportional</text><text x="1688" y="2380">wavelength</text><text x="1550" y="2383">time</text><text x="1584" y="2383">nucleus</text><text x="1632" y="2388">portions</text><text x="1683" y="2383">something</text><text x="1589" y="2395">describe</text><text x="1601" y="2405">say</text><text x="1698" y="2396">numbers</text><text x="1658" y="2400">consider</text><text x="1647" y="2391">account</text>
</g>
</g>

<g id="discussion">
<rect class="bar" x="2083" y="407" width="789" height="45"/>
<text class="h" x="2399" y="441" textLength="157" lengthAdjust="spacingAndGlyphs">DISCUSSION</text>
<text class="d" x="2098.500" y="492" textLength="639" lengthAdjust="spacingAndGlyphs">As shown in figure 1, the pre-trained models did not</text>
<text class="d" x="2098.500" y="523" textLength="688" lengthAdjust="spacingAndGlyphs">generate the maps that we expected for the input text</text>
<text class="d" x="2098.500" y="554" textLength="749" lengthAdjust="spacingAndGlyphs">data, the nursery rhyme Jack and Jill. For example, figure 1’s</text>
<text class="d" x="2098.500" y="585" textLength="740" lengthAdjust="spacingAndGlyphs">mind map (left) was generated using BERT and the network</text>
<text class="d" x="2098.500" y="616" textLength="735" lengthAdjust="spacingAndGlyphs">map) was generated using GPT-2. Afterwards, we decided</text>
<text class="d" x="2098.500" y="647" textLength="722" lengthAdjust="spacingAndGlyphs">to use a word matrix to generate the maps and it showed</text>
<text class="d" x="2098.500" y="678" textLength="758" lengthAdjust="spacingAndGlyphs">better results. For example, in figure 2, the network map (top)</text>
<text class="d" x="2098.500" y="709" textLength="703" lengthAdjust="spacingAndGlyphs">only showed the most frequent words in the Jack and Jill</text>
<text class="d" x="2098.500" y="740" textLength="701" lengthAdjust="spacingAndGlyphs">besides the stop words, Jack and Jill. The mind map was</text>
<text class="d" x="2098.500" y="771" textLength="707" lengthAdjust="spacingAndGlyphs">tested using the 1953 State of the Union speech and was</text>
<text class="d" x="2098.500" y="802" textLength="688" lengthAdjust="spacingAndGlyphs">able to show certain topics that were mentioned in the</text>
<text class="d" x="2098.500" y="833" textLength="749" lengthAdjust="spacingAndGlyphs">speech, like freedom and nation. After promising results, we</text>
<text class="d" x="2098.500" y="864" textLength="702" lengthAdjust="spacingAndGlyphs">decided to test the word matrix algorithm on Feynman’s</text>
<text class="d" x="2098.500" y="895" textLength="758" lengthAdjust="spacingAndGlyphs">Lecture Volume 1 Section 2-2: Physics Before 1920. In figure 3,</text>
<text class="d" x="2098.500" y="926" textLength="757" lengthAdjust="spacingAndGlyphs">the mind map (top) was able to show highlighted words and</text>
<text class="d" x="2098.500" y="956" textLength="617" lengthAdjust="spacingAndGlyphs">group them. For instance, quantum, nucleus, and</text>
<text class="d" x="2098.500" y="987" textLength="714" lengthAdjust="spacingAndGlyphs">mechanics are in the same topic group in the mind map.</text>
<text class="d" x="2098.500" y="1018" textLength="724" lengthAdjust="spacingAndGlyphs">The network map (bottom) of figure 3 showed quantum in</text>
<text class="d" x="2098.500" y="1049" textLength="684" lengthAdjust="spacingAndGlyphs">the center, but one side of the map is hard to see, and</text>
<text class="d" x="2098.500" y="1080" textLength="714" lengthAdjust="spacingAndGlyphs">certain words can be seen, like atom, phenomenon, and</text>
<text class="d" x="2098.500" y="1111" textLength="158" lengthAdjust="spacingAndGlyphs">experiments.</text>
<text class="d" x="2098.500" y="1185" textLength="210" lengthAdjust="spacingAndGlyphs" text-decoration="underline">LLMs &amp; K-Clusters</text>
<text class="d" x="2098.500" y="1221.500" textLength="747" lengthAdjust="spacingAndGlyphs">We will continue to work with the word matrix algorithm and</text>
<text class="d" x="2098.500" y="1252.500" textLength="660" lengthAdjust="spacingAndGlyphs">intend to include the large language models. This will</text>
<text class="d" x="2098.500" y="1283.500" textLength="732" lengthAdjust="spacingAndGlyphs">provide a point of camparison for visualizations created by</text>
<text class="d" x="2098.500" y="1315" textLength="587" lengthAdjust="spacingAndGlyphs">human thematic analysis and network analysis.</text>
<text class="d" x="2098.500" y="1389" textLength="207" lengthAdjust="spacingAndGlyphs" text-decoration="underline">Network Analysis</text>
<text class="d" x="2098.500" y="1426.500" textLength="688" lengthAdjust="spacingAndGlyphs">Further work with Network Analysis will limit the nodes to</text>
<text class="d" x="2098.500" y="1457.500" textLength="750" lengthAdjust="spacingAndGlyphs">focus the analysis and create a more human-legible format.</text>
<text class="d" x="2098.500" y="1488.500" textLength="753" lengthAdjust="spacingAndGlyphs">This will be accomplished by further refining and isolating the</text>
<text class="d" x="2098.500" y="1519" textLength="753" lengthAdjust="spacingAndGlyphs">content of the text documents used and measuring network</text>
<text class="d" x="2098.500" y="1550" textLength="691" lengthAdjust="spacingAndGlyphs">metrics like centrality and betweenness in visualizations.</text>
</g>

<g id="references">
<rect class="bar" x="2083" y="1593" width="789" height="44.500"/>
<text class="h" x="2399" y="1626" textLength="156" lengthAdjust="spacingAndGlyphs">REFERENCES</text>
<circle class="dot" cx="2102.500" cy="1669" r="2.800"/><circle class="dot" cx="2102.500" cy="1743" r="2.800"/><circle class="dot" cx="2102.500" cy="1848" r="2.800"/>
<text class="d" x="2127.300" y="1677.500" textLength="669" lengthAdjust="spacingAndGlyphs">Louridas, P. (2020). Algorithms. The MIT Press.Mueller, J.</text>
<text class="d" x="2135" y="1751.500" textLength="667" lengthAdjust="spacingAndGlyphs">Massaron, L. (2018). Artificial intelligence for dummies.</text>
<text class="d" x="2127.300" y="1783" textLength="282" lengthAdjust="spacingAndGlyphs">John Wiley &amp; Sons, Inc.</text>
<text class="d" x="2127.300" y="1857" textLength="715" lengthAdjust="spacingAndGlyphs">Mariegaard, S., Seidlin, L.D., Bruun, J. (2022). Identification</text>
<text class="d" x="2127.300" y="1888" textLength="699" lengthAdjust="spacingAndGlyphs">of positions in literature using thematic network analysis:</text>
<text class="d" x="2127.300" y="1919" textLength="625" lengthAdjust="spacingAndGlyphs">the case of early childhood inquiry-based science</text>
<text class="d" x="2127.300" y="1950" textLength="718" lengthAdjust="spacingAndGlyphs">education. International Journal of Research &amp; Method in</text>
<text class="d" x="2127.300" y="1981" textLength="209" lengthAdjust="spacingAndGlyphs">Education. 45(5).</text>
</g>

<g id="acknowledgements">
<rect class="bar" x="2083" y="2104" width="789" height="45"/>
<text class="h" x="2331" y="2138" textLength="293" lengthAdjust="spacingAndGlyphs">ACKNOWLEDGEMENTS</text>
<text class="d" x="2098.500" y="2208" textLength="758" lengthAdjust="spacingAndGlyphs">Thank you to Title III HBCU B, 2022-2023 - Innovation Teaching,</text>
<text class="d" x="2098.500" y="2239.500" textLength="614" lengthAdjust="spacingAndGlyphs">Learning and Scholarship for funding this project!</text>
</g>
</svg>
